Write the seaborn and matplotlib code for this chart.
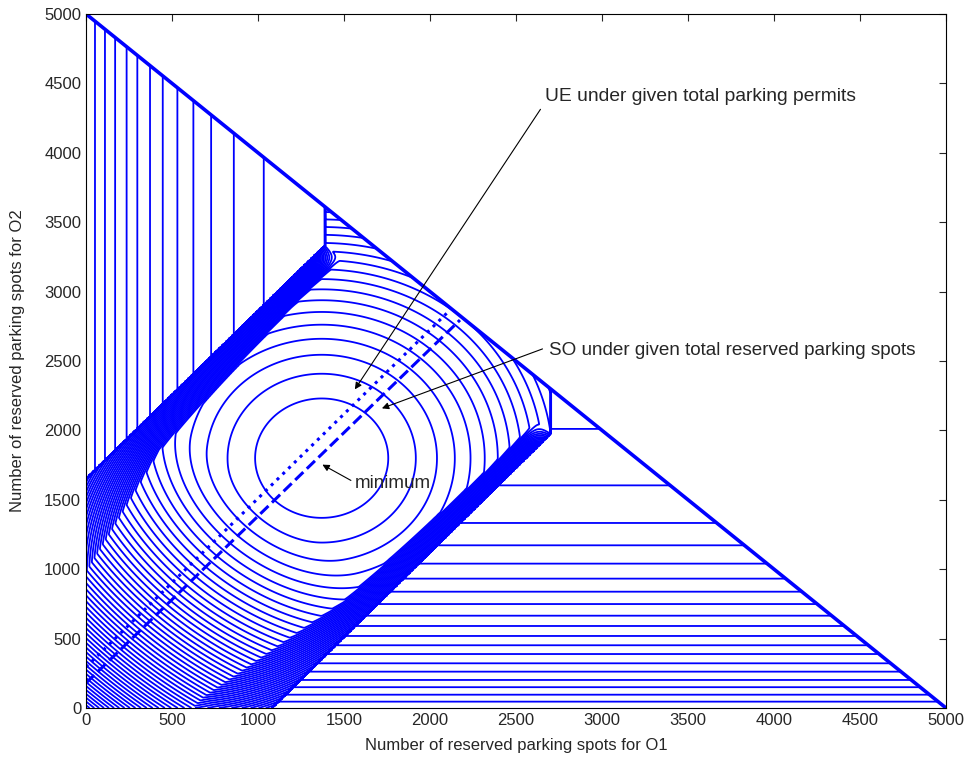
import numpy as np
import matplotlib
matplotlib.use("Agg")
import matplotlib.pyplot as plt
import seaborn as sns

# values (axes in parking spots)
total_spots = 5000
so_minimum = [1370, 1800]

# vertical contours in the upper-left zone (cost depends on O1 only), level 12 ... 1
zone_a_x = [52, 110, 169, 236, 298, 372, 446, 531, 624, 727, 859, 1033]
# horizontal contours in the lower-right zone (cost depends on O2 only), level 19 ... 1
zone_c_y = [46, 96, 150, 202, 262, 322, 389, 452, 519, 591, 665, 749,
            838, 932, 1040, 1172, 1333, 1604, 2010]

# regime borders
upper_edge_x = [-1000, 1390]
upper_edge_y = [440, 3332]
lower_edge_x = [80, 2700]
lower_edge_y = [-1220, 1976]
zone_c_right_x = 2700

# ring radius of the first level around the minimum (O1 / O2 direction)
ring_rx = 387
ring_ry = 430

# equilibrium lines
ue_x = [0, 2116]
ue_y = [295, 2867]
so_x = [0, 2174]
so_y = [180, 2795]

levels = np.arange(1, 120)


def seg_dist(px, py, x0, y0, x1, y1):
    # distance to a border segment, and how close to its upper-right end we are
    vx, vy = x1 - x0, y1 - y0
    length = np.hypot(vx, vy)
    t = np.clip(((px - x0) * vx + (py - y0) * vy) / length ** 2, 0, 1)
    d = np.hypot(px - (x0 + t * vx), py - (y0 + t * vy))
    return d, np.clip((1 - t) * length / 140, 0, 1)


g = np.linspace(0, total_spots, 1201)
X, Y = np.meshgrid(g, g)
ky = ring_rx / ring_ry

# middle zone: rings around the minimum, pressed into the band between the borders
dx = X - so_minimum[0]
dy = (Y - so_minimum[1]) * ky
ring = (dx ** 2 + dy ** 2) / ring_rx ** 2
slope = ky * (upper_edge_y[1] - upper_edge_y[0]) / (upper_edge_x[1] - upper_edge_x[0])
ex, ey = np.array([1.0, slope]) / np.hypot(1.0, slope)
s = dx * ex + dy * ey
tail = 1.2 * np.clip(-s - 400, 0, None) ** 2 / ring_rx ** 2

d_up, end_up = seg_dist(X, Y * ky, upper_edge_x[0], upper_edge_y[0] * ky, upper_edge_x[1], upper_edge_y[1] * ky)
d_lo, end_lo = seg_dist(X, Y * ky, lower_edge_x[0], lower_edge_y[0] * ky, lower_edge_x[1], lower_edge_y[1] * ky)
w_up = np.interp(s, [-1600, -600, 600], [440, 190, 130])
w_lo = np.interp(s, [-1600, -600, 600], [340, 160, 115])
hug = 20 * np.clip(1 - d_up / w_up, 0, None) * end_up + 17 * np.clip(1 - d_lo / w_lo, 0, None) * end_lo
z_mid = ring + tail + hug

# side zones from the read-off line positions
a_lv = np.arange(len(zone_a_x), 0, -1)
z_a = np.interp(X, [0] + zone_a_x + [upper_edge_x[1]], [a_lv[0] + 0.9] + list(a_lv) + [0.3])
c_lv = np.arange(len(zone_c_y), 0, -1)
z_c = np.interp(Y, [0] + zone_c_y + [2100], [c_lv[0] + 0.9] + list(c_lv) + [0.9])

y_up = np.interp(X, upper_edge_x, upper_edge_y)
y_lo = np.interp(X, lower_edge_x, lower_edge_y, right=1e9)
in_a = (X < upper_edge_x[1]) & (Y > y_up)
in_c = (Y < y_lo) | (X > zone_c_right_x)
Z = np.where(in_a, z_a, np.where(in_c, z_c, z_mid))
Z = np.where(X + Y > total_spots + 1, np.nan, Z)

sns.set_style("white")
plt.rcParams["font.family"] = ["Liberation Sans", "DejaVu Sans"]

fig = plt.figure(figsize=(9.7, 7.6), dpi=100)
ax = fig.add_axes([0.0887, 0.0684, 0.8866, 0.9132])

ax.contour(X, Y, Z, levels=levels, colors="#0000ff", linewidths=1.3)
ax.plot([0, total_spots], [total_spots, 0], color="#0000ff", lw=2.6)
sns.lineplot(x=ue_x, y=ue_y, ax=ax, color="#0000ff", lw=2.2, linestyle=":")
sns.lineplot(x=so_x, y=so_y, ax=ax, color="#0000ff", lw=2.2, linestyle="--")

arrow = dict(arrowstyle="-|>", color="black", lw=0.8, mutation_scale=10)
ax.annotate("", xy=(1554, 2279), xytext=(2651, 4330), arrowprops=arrow)
ax.text(2669, 4402, "UE under given total parking permits", fontsize=13.9, va="center")
ax.annotate("", xy=(1705, 2152), xytext=(2669, 2594), arrowprops=arrow)
ax.text(2692, 2579, "SO under given total reserved parking spots", fontsize=13.6, va="center")
ax.annotate("", xy=(1360, 1763), xytext=(1554, 1630), arrowprops=arrow)
ax.text(1564, 1614, "minimum", fontsize=13.6, va="center")

ax.set_xlim(0, total_spots)
ax.set_ylim(0, total_spots)
ax.set_xticks(np.arange(0, total_spots + 1, 500))
ax.set_yticks(np.arange(0, total_spots + 1, 500))
ax.tick_params(direction="in", length=5, top=True, right=True, labelsize=12, width=0.8)
for sp in ax.spines.values():
    sp.set_color("black")
    sp.set_linewidth(0.8)
ax.set_xlabel("Number of reserved parking spots for O1", fontsize=12, labelpad=7)
ax.set_ylabel("Number of reserved parking spots for O2", fontsize=12, labelpad=14)

fig.savefig("out.png", dpi=100)
